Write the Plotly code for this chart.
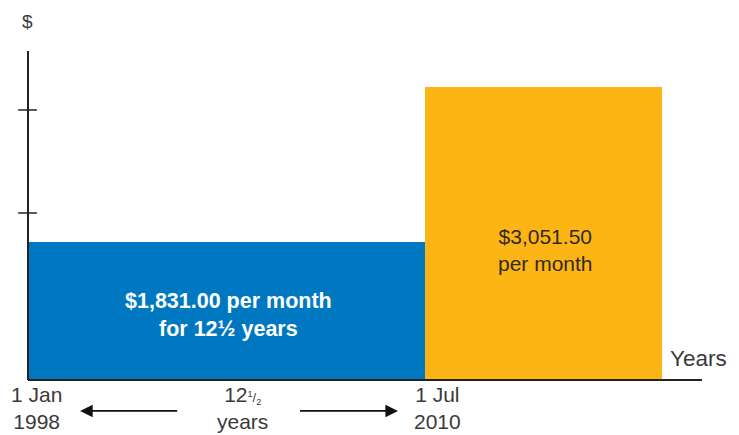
import plotly.graph_objects as go

# Data
periods = ["1 Jan 1998 – 1 Jul 2010", "From 1 Jul 2010"]
start_years = [1998.0, 2010.5]
durations = [12.5, 7.45]          # years (second is schematic width)
monthly_amounts = [1831.00, 3051.50]
bar_heights = [1831, 3890]        # schematic drawn heights (chart not to scale)
bar_labels = ["<b>$1,831.00 per month<br>for 12½ years</b>", "$3,051.50<br>per month"]
bar_colors = ["#0078C1", "#FDB515"]
label_colors = ["white", "#33291a"]
y_ticks = [2216, 3583]
date_labels = ["1 Jan<br>1998", "1 Jul<br>2010"]
date_positions = [1998.0, 2010.5]

FONT = "Liberation Sans, Arial, sans-serif"
TXT = "#3a3a3a"
FS = 21

fig = go.Figure()
centers = [s + d / 2 for s, d in zip(start_years, durations)]
fig.add_trace(go.Bar(
    x=centers, y=bar_heights, width=durations,
    marker=dict(color=bar_colors, line=dict(width=0)),
    textposition="none", hoverinfo="skip", showlegend=False,
))

# page body has an 8px margin; figure is 731x427 placed at (8,8)
x_left, x_right = 1997.370, 2020.387
y_bottom, y_top = -730, 4936

# Axes lines
fig.add_shape(type="line", x0=1998, x1=2019.22, y0=0, y1=0, line=dict(color="#222", width=2))
fig.add_shape(type="line", x0=1998, x1=1998, y0=0, y1=4366, line=dict(color="#222", width=2))
# Crossing ticks on y-axis
for t in y_ticks:
    fig.add_shape(type="line", x0=1997.69, x1=1998.28, y0=t, y1=t, line=dict(color="#222", width=1.5))

# Bar labels
fig.add_annotation(x=2004.30, y=860, text=bar_labels[0], showarrow=False,
                   font=dict(family=FONT, size=21.5, color=label_colors[0]), align="center")
fig.add_annotation(x=2014.28, y=1725, text=bar_labels[1], showarrow=False,
                   font=dict(family=FONT, size=FS, color=label_colors[1]), align="center")

# Date labels
fig.add_annotation(x=1998.28, y=-372, text=date_labels[0], showarrow=False,
                   font=dict(family=FONT, size=FS, color=TXT), align="center")
fig.add_annotation(x=2010.88, y=-372, text=date_labels[1], showarrow=False,
                   font=dict(family=FONT, size=FS, color=TXT), align="center")

# Middle duration label
fig.add_annotation(x=2004.74, y=-372,
                   text="12<span style='font-size:13px'><sup>1</sup>/<sub>2</sub></span><br>years",
                   showarrow=False, font=dict(family=FONT, size=FS, color=TXT), align="center")

# Arrows
arrow_y = -411
fig.add_annotation(x=1999.64, y=arrow_y, ax=2002.79, ay=arrow_y, axref="x", ayref="y",
                   xref="x", yref="y", text=" ", showarrow=True, arrowhead=2, arrowsize=1.4,
                   arrowwidth=1.8, arrowcolor="#111")
fig.add_annotation(x=2009.65, y=arrow_y, ax=2006.47, ay=arrow_y, axref="x", ayref="y",
                   xref="x", yref="y", text=" ", showarrow=True, arrowhead=2, arrowsize=1.4,
                   arrowwidth=1.8, arrowcolor="#111")

# Axis titles
fig.add_annotation(x=1997.97, y=4751, text="$", showarrow=False,
                   font=dict(family=FONT, size=19, color=TXT))
fig.add_annotation(x=2020.08, y=290, text="Years", showarrow=False, xanchor="right",
                   font=dict(family=FONT, size=22.5, color=TXT))

fig.update_layout(
    width=731, height=427,
    margin=dict(l=0, r=0, t=0, b=0),
    plot_bgcolor="white", paper_bgcolor="white",
    xaxis=dict(range=[x_left, x_right], visible=False, fixedrange=True),
    yaxis=dict(range=[y_bottom, y_top], visible=False, fixedrange=True),
    bargap=0,
)

fig.write_html("out.html")
